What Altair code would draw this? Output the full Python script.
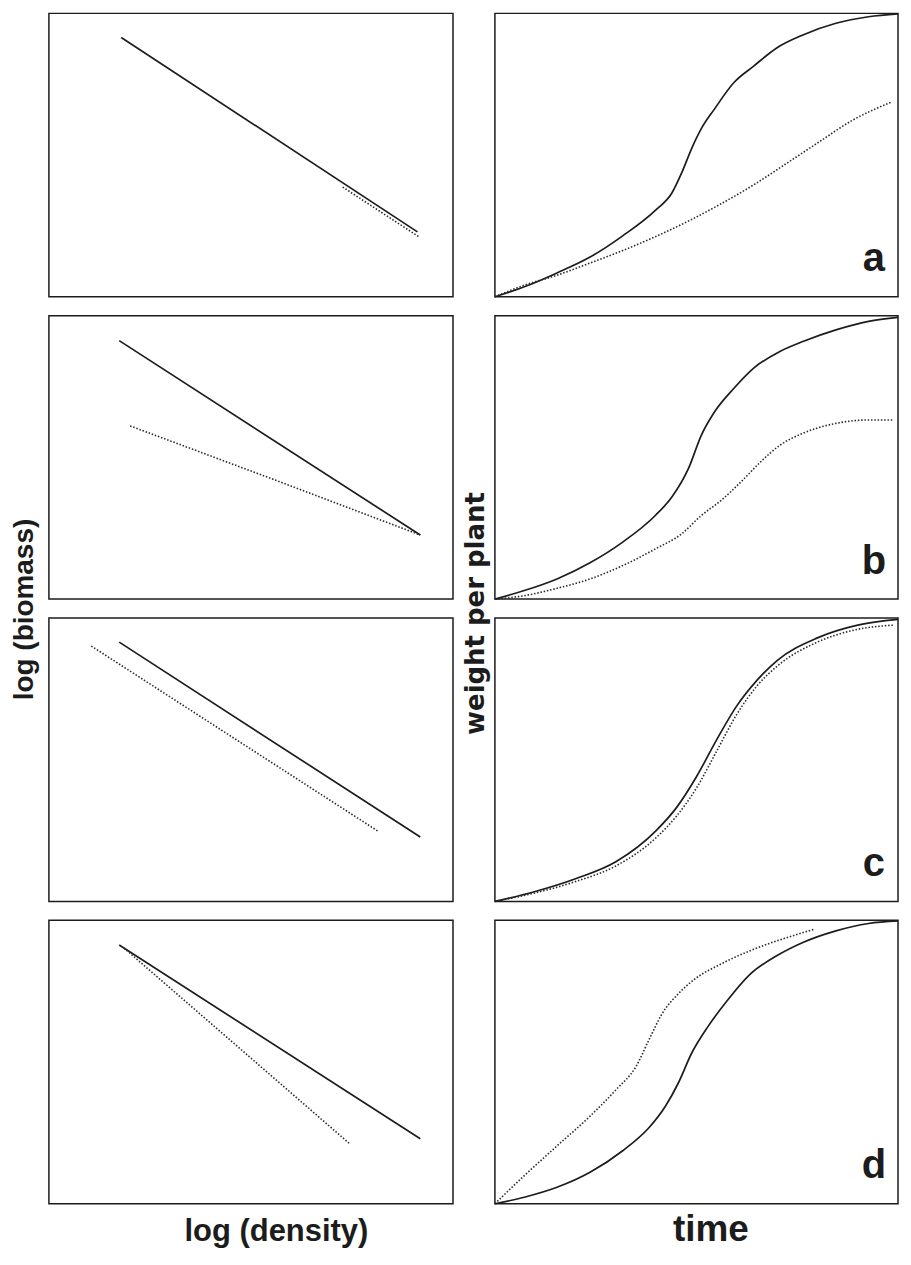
import altair as alt
import pandas as pd

# ---------------- left column: log(biomass) vs log(density) ----------------
# (x = log density, y = log biomass, both on a 0..1 frame)
left_a_solid_x = [0.179, 0.912]
left_a_solid_y = [0.915, 0.229]
left_a_dot_x = [0.727, 0.915]
left_a_dot_y = [0.387, 0.212]

left_b_solid_x = [0.174, 0.919]
left_b_solid_y = [0.912, 0.226]
left_b_dot_x = [0.201, 0.560, 0.919]
left_b_dot_y = [0.611, 0.420, 0.226]

left_c_solid_x = [0.174, 0.919]
left_c_solid_y = [0.915, 0.227]
left_c_dot_x = [0.105, 0.814]
left_c_dot_y = [0.901, 0.248]

left_d_solid_x = [0.174, 0.919]
left_d_solid_y = [0.913, 0.229]
left_d_dot_x = [0.186, 0.744]
left_d_dot_y = [0.902, 0.212]

# ---------------- right column: weight per plant vs time ----------------
right_a_solid_t = [0.0, 0.073, 0.154, 0.236, 0.317, 0.398, 0.439, 0.463, 0.488, 0.512,
                   0.545, 0.593, 0.642, 0.699, 0.764, 0.846, 0.927, 1.0]
right_a_solid_w = [0.0, 0.035, 0.084, 0.140, 0.215, 0.305, 0.366, 0.436, 0.523, 0.593,
                   0.663, 0.756, 0.814, 0.878, 0.924, 0.965, 0.988, 0.998]
right_a_dot_t = [0.0, 0.073, 0.154, 0.236, 0.317, 0.398, 0.480, 0.561, 0.642, 0.724,
                 0.805, 0.886, 0.982]
right_a_dot_w = [0.0, 0.041, 0.076, 0.119, 0.163, 0.212, 0.267, 0.328, 0.395, 0.471,
                 0.547, 0.622, 0.686]

right_b_solid_t = [0.0, 0.073, 0.154, 0.236, 0.317, 0.398, 0.439, 0.480, 0.512, 0.545,
                   0.593, 0.642, 0.707, 0.764, 0.846, 0.927, 1.0]
right_b_solid_w = [0.0, 0.030, 0.071, 0.128, 0.201, 0.295, 0.360, 0.460, 0.578, 0.661,
                   0.744, 0.815, 0.874, 0.909, 0.950, 0.980, 0.994]
right_b_dot_t = [0.0, 0.073, 0.154, 0.236, 0.317, 0.398, 0.463, 0.512, 0.561, 0.610,
                 0.659, 0.707, 0.764, 0.846, 0.927, 0.988]
right_b_dot_w = [0.0, 0.012, 0.038, 0.071, 0.118, 0.177, 0.230, 0.295, 0.348, 0.413,
                 0.484, 0.543, 0.585, 0.620, 0.632, 0.632]

right_c_solid_t = [0.0, 0.1, 0.2, 0.3, 0.4, 0.45, 0.5, 0.55, 0.6, 0.65, 0.7, 0.8, 0.9, 1.0]
right_c_solid_w = [0.0, 0.035, 0.08, 0.14, 0.25, 0.33, 0.44, 0.57, 0.69, 0.78, 0.85, 0.93,
                   0.975, 0.995]
right_c_dot_t = [0.0, 0.1, 0.2, 0.3, 0.4, 0.45, 0.5, 0.55, 0.6, 0.65, 0.7, 0.8, 0.9, 0.99]
right_c_dot_w = [0.0, 0.03, 0.07, 0.125, 0.225, 0.30, 0.40, 0.53, 0.66, 0.76, 0.83, 0.915,
                 0.96, 0.975]

right_d_solid_t = [0.0, 0.073, 0.154, 0.236, 0.317, 0.382, 0.423, 0.455, 0.488, 0.528,
                   0.577, 0.634, 0.699, 0.764, 0.846, 0.927, 1.0]
right_d_solid_w = [0.0, 0.023, 0.058, 0.111, 0.187, 0.268, 0.344, 0.426, 0.531, 0.624,
                   0.718, 0.811, 0.875, 0.922, 0.963, 0.989, 0.998]
right_d_dot_t = [0.0, 0.073, 0.154, 0.236, 0.301, 0.350, 0.382, 0.415, 0.455, 0.496,
                 0.561, 0.642, 0.724, 0.793]
right_d_dot_w = [0.0, 0.099, 0.204, 0.309, 0.403, 0.484, 0.578, 0.671, 0.741, 0.793,
                 0.846, 0.898, 0.939, 0.969]

panel_letters = ["a", "b", "c", "d"]
letter_t = 0.94
letter_w = 0.09

FONT = "Liberation Sans, Arial, Helvetica, sans-serif"
WIDE_FONT = "DejaVu Sans, Verdana, sans-serif"
INK = "#1c1c1c"
W_LEFT, W_RIGHT, H = 405, 404, 284
GAP = 19

scale01 = alt.Scale(domain=[0, 1], nice=False, zero=False)


def x_axis(title, size, pad, shift, width):
    return alt.Axis(title=title, domain=False, ticks=False, labels=False, grid=False,
                    titleFont=FONT, titleFontSize=size, titleFontWeight="bold",
                    titleColor=INK, titlePadding=pad, titleAlign="center",
                    titleX=width / 2 + shift)


def y_axis(title, font, size, pad, ypos):
    return alt.Axis(title=title, domain=False, ticks=False, labels=False, grid=False,
                    titleFont=font, titleFontSize=size, titleFontWeight="bold",
                    titleColor=INK, titlePadding=pad, titleAlign="center",
                    titleAngle=270, titleBaseline="bottom", titleY=ypos)


def lines(sx, sy, dx, dy, xaxis, yaxis, interp):
    solid = pd.DataFrame({"x": sx, "y": sy})
    dot = pd.DataFrame({"x": dx, "y": dy})
    s = alt.Chart(solid).mark_line(color=INK, strokeWidth=1.7, interpolate=interp).encode(
        x=alt.X("x:Q", scale=scale01, axis=xaxis),
        y=alt.Y("y:Q", scale=scale01, axis=yaxis),
    )
    d = alt.Chart(dot).mark_line(color="#2a2a2a", strokeWidth=1.6, interpolate=interp,
                                 strokeDash=[1.5, 1.8]).encode(
        x=alt.X("x:Q", scale=scale01),
        y=alt.Y("y:Q", scale=scale01),
    )
    return s, d


left_data = [
    (left_a_solid_x, left_a_solid_y, left_a_dot_x, left_a_dot_y),
    (left_b_solid_x, left_b_solid_y, left_b_dot_x, left_b_dot_y),
    (left_c_solid_x, left_c_solid_y, left_c_dot_x, left_c_dot_y),
    (left_d_solid_x, left_d_solid_y, left_d_dot_x, left_d_dot_y),
]
right_data = [
    (right_a_solid_t, right_a_solid_w, right_a_dot_t, right_a_dot_w),
    (right_b_solid_t, right_b_solid_w, right_b_dot_t, right_b_dot_w),
    (right_c_solid_t, right_c_solid_w, right_c_dot_t, right_c_dot_w),
    (right_d_solid_t, right_d_solid_w, right_d_dot_t, right_d_dot_w),
]

left_panels = []
for i, (sx, sy, dx, dy) in enumerate(left_data):
    xa = x_axis("log (density)", 31, 13, 25, W_LEFT) if i == 3 else None
    ya = y_axis("log (biomass)", FONT, 28, 10, H + 10) if i == 1 else None
    s, d = lines(sx, sy, dx, dy, xa, ya, "linear")
    left_panels.append(alt.layer(s, d).properties(width=W_LEFT, height=H))

right_panels = []
for i, (sx, sy, dx, dy) in enumerate(right_data):
    xa = x_axis("time", 37, 8, 14, W_RIGHT) if i == 3 else None
    ya = y_axis("weight per plant", WIDE_FONT, 26, 6, H + 14) if i == 1 else None
    s, d = lines(sx, sy, dx, dy, xa, ya, "monotone")
    lab = alt.Chart(pd.DataFrame({"x": [letter_t], "y": [letter_w],
                                  "t": [panel_letters[i]]})).mark_text(
        font=FONT, fontSize=40, fontWeight="bold", color=INK,
        align="center", baseline="alphabetic").encode(
        x=alt.X("x:Q", scale=scale01),
        y=alt.Y("y:Q", scale=scale01),
        text="t:N",
    )
    right_panels.append(alt.layer(s, d, lab).properties(width=W_RIGHT, height=H))

left_col = alt.vconcat(*left_panels, spacing=GAP, bounds="flush")
right_col = alt.vconcat(*right_panels, spacing=GAP, bounds="flush")

chart = alt.hconcat(left_col, right_col, spacing=8).properties(
    padding={"left": 2, "top": 0, "right": 0, "bottom": 0},
    background="white",
).configure_view(stroke=INK, strokeWidth=1.5)

chart.save("out.html", embed_options={"renderer": "svg", "actions": False})
